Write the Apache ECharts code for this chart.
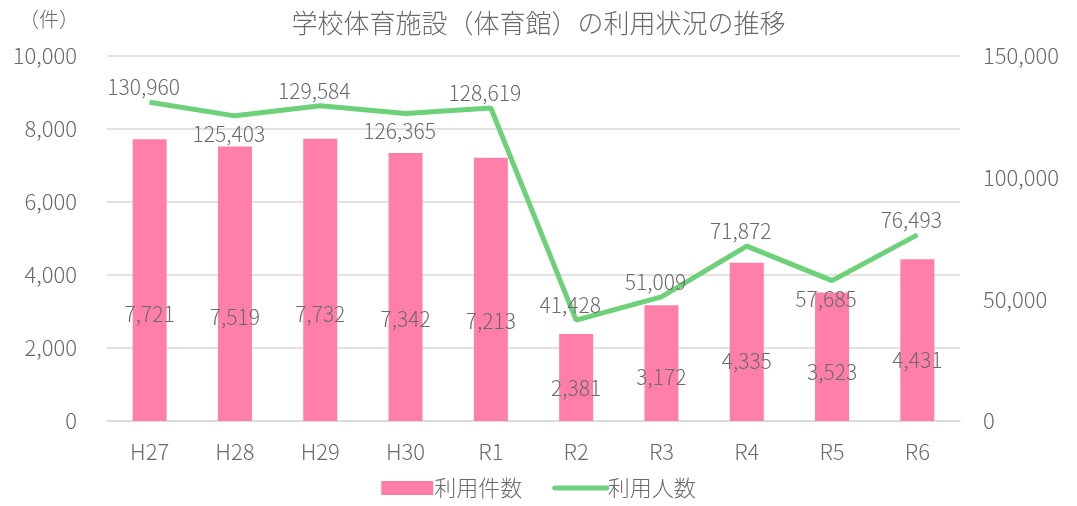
<!DOCTYPE html>
<html lang="ja">
<head>
    <meta charset="UTF-8">
    <title>学校体育施設（体育館）の利用状況の推移</title>
    <script src="https://cdn.jsdelivr.net/npm/echarts@6/dist/echarts.min.js"></script>
    <style>
        body { margin: 0; }
        #root { width: 1077px; height: 506px; }
    </style>
</head>
<body>
    <div id="root"></div>
    <script>
        // 年度
        var years = ['H27', 'H28', 'H29', 'H30', 'R1', 'R2', 'R3', 'R4', 'R5', 'R6'];
        // 利用件数（件）
        var useCount = [7721, 7519, 7732, 7342, 7213, 2381, 3172, 4335, 3523, 4431];
        // 利用人数（人）
        var usePeople = [130960, 125403, 129584, 126365, 128619, 41428, 51009, 71872, 57685, 76493];

        var leftTicks = { min: 0, max: 10000, interval: 2000 };
        var rightTicks = { min: 0, max: 150000, interval: 50000 };

        // ラベルを線の下に置く年度
        var labelBelow = ['H28', 'H30', 'R5'];

        var font = '"Noto Sans CJK JP", "Noto Sans", sans-serif';
        var grey = '#6a6a6a';

        function fmt(v) {
            return v.toLocaleString('en-US');
        }

        var lineData = usePeople.map(function (v, i) {
            var below = labelBelow.indexOf(years[i]) >= 0;
            return {
                value: v,
                label: {
                    position: below ? 'bottom' : 'top',
                    distance: below ? 7 : 4,
                    offset: [-6, 0]
                }
            };
        });

        var mychart = echarts.init(document.getElementById('root'));

        mychart.setOption({
            animation: false,
            textStyle: { fontFamily: font, fontWeight: 300 },
            title: [{
                text: '学校体育施設（体育館）の利用状況の推移',
                left: 'center',
                top: 5,
                textStyle: { fontFamily: font, fontSize: 26, fontWeight: 300, color: grey }
            }, {
                text: '（件）',
                left: 14,
                top: 4,
                textStyle: { fontFamily: font, fontSize: 20, fontWeight: 300, color: grey }
            }],
            grid: { left: 107, right: 117, top: 56, bottom: 85 },
            legend: {
                bottom: 2,
                left: 'center',
                itemWidth: 52,
                itemHeight: 14,
                itemGap: 30,
                textStyle: { fontFamily: font, fontSize: 22, fontWeight: 300, color: grey, padding: [0, 0, 0, -4] },
                data: [
                    { name: '利用件数', icon: 'rect' },
                    { name: '利用人数', itemStyle: { opacity: 0 }, lineStyle: { width: 5, cap: 'round' } }
                ]
            },
            xAxis: {
                type: 'category',
                data: years,
                axisTick: { show: false },
                axisLine: { lineStyle: { color: '#d9d9d9', width: 1.5 } },
                axisLabel: { color: grey, fontSize: 22, fontWeight: 300, margin: 20 }
            },
            yAxis: [{
                type: 'value',
                min: leftTicks.min,
                max: leftTicks.max,
                interval: leftTicks.interval,
                axisLabel: { color: grey, fontSize: 22, fontWeight: 300, margin: 30, formatter: fmt },
                axisLine: { show: false },
                axisTick: { show: false },
                splitLine: { lineStyle: { color: '#d9d9d9', width: 1.5 } }
            }, {
                type: 'value',
                min: rightTicks.min,
                max: rightTicks.max,
                interval: rightTicks.interval,
                axisLabel: { color: grey, fontSize: 22, fontWeight: 300, margin: 23, formatter: fmt },
                axisLine: { show: false },
                axisTick: { show: false },
                splitLine: { show: false }
            }],
            series: [{
                name: '利用件数',
                type: 'bar',
                data: useCount,
                barWidth: 34,
                itemStyle: { color: '#ff7faa' },
                label: {
                    show: true,
                    position: ['50%', '62%'],
                    align: 'center',
                    verticalAlign: 'middle',
                    color: grey,
                    fontSize: 21,
                    fontWeight: 300,
                    formatter: function (p) { return fmt(p.value); }
                },
                z: 2
            }, {
                name: '利用人数',
                type: 'line',
                yAxisIndex: 1,
                data: lineData,
                symbol: 'circle',
                symbolSize: 1,
                lineStyle: { color: '#6cd178', width: 5 },
                itemStyle: { color: '#6cd178' },
                label: {
                    show: true,
                    color: grey,
                    fontSize: 21,
                    fontWeight: 300,
                    formatter: function (p) { return fmt(p.value); }
                },
                z: 3
            }]
        });
    </script>
</body>
</html>
